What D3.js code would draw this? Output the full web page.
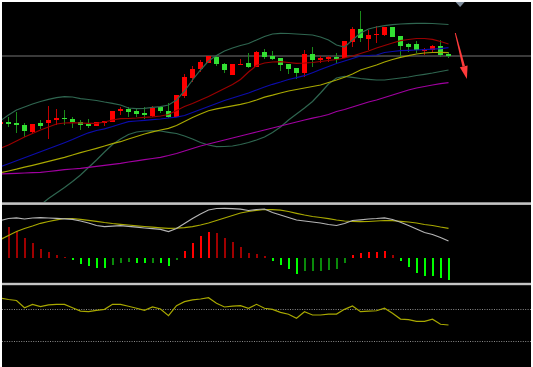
<!DOCTYPE html>
<html><head><meta charset="utf-8">
<script src="https://cdn.jsdelivr.net/npm/d3@7"></script>
<style>html,body{margin:0;padding:0;background:#fff;overflow:hidden}</style>
</head><body>
<svg id="c" width="533" height="367"></svg>
<script>
// ---- candle data (index 0..56) ----
const open  = [27.92,28.00,27.87,27.73,27.00,27.87,27.90,28.20,28.40,28.33,28.03,27.80,27.63,27.97,28.03,29.17,29.27,29.07,28.87,28.63,29.47,29.13,28.53,30.63,32.37,33.27,33.93,34.53,33.80,32.73,33.70,33.87,33.53,35.00,34.60,34.37,33.77,33.37,32.87,34.80,34.20,34.30,34.47,34.37,36.03,37.27,36.30,36.67,36.70,37.47,36.60,35.77,35.77,35.13,35.20,35.63,34.77];
const close = [27.96,27.80,27.73,27.07,27.83,27.60,28.23,28.40,28.27,28.00,27.73,27.60,28.00,28.07,29.13,29.27,29.00,28.80,28.67,29.40,29.13,28.53,30.70,32.47,33.30,33.97,34.57,33.80,33.20,33.77,33.83,33.53,35.00,34.53,34.30,33.70,33.30,32.87,34.80,34.20,34.37,34.50,34.37,36.10,37.27,36.37,36.70,36.80,37.47,36.53,35.63,35.53,35.20,35.27,35.63,34.70,34.67];
const high  = [28.00,28.47,29.00,27.87,27.83,28.20,29.60,29.27,29.20,28.53,28.20,28.33,28.03,28.13,29.13,29.53,29.47,29.37,29.47,29.60,29.60,29.93,30.70,32.80,33.60,34.20,34.60,34.60,33.93,33.80,34.33,34.93,35.07,35.27,35.10,34.40,33.80,33.40,35.20,35.53,34.60,34.60,34.87,36.10,37.47,39.10,37.20,37.63,37.47,37.53,36.63,35.87,36.07,35.37,35.73,36.20,34.97];
const low   = [27.88,27.53,26.93,26.53,26.80,27.27,26.27,27.70,27.70,27.40,27.20,27.37,27.60,27.60,28.00,28.70,28.53,28.47,28.33,28.47,28.87,28.37,28.50,30.37,32.03,33.03,33.90,33.63,32.93,32.67,33.67,33.37,33.53,34.33,34.20,33.13,32.80,32.33,32.47,33.53,33.87,34.03,33.87,34.37,35.47,36.03,35.20,35.93,36.63,36.47,34.37,35.00,34.93,34.67,34.87,34.47,34.37];
// ---- main panel indicator lines ----
const bollUpper = [28.13,28.70,29.20,29.50,29.80,30.05,30.27,30.43,30.53,30.50,30.33,30.25,30.15,30.00,29.87,29.70,29.40,29.33,29.37,29.47,29.53,29.70,30.20,31.10,32.20,33.20,34.10,34.65,35.10,35.40,35.65,35.85,36.20,36.55,36.80,36.87,36.85,36.80,36.75,36.70,36.50,36.20,35.70,35.50,36.20,36.90,37.30,37.50,37.63,37.73,37.80,37.83,37.87,37.87,37.85,37.80,37.75];
const bollLower = [16.20,16.90,17.60,18.30,19.00,19.70,20.35,20.90,21.45,22.05,22.70,23.45,24.20,25.00,25.75,26.30,26.75,27.00,27.10,27.12,27.10,26.97,26.85,26.60,26.30,25.95,25.70,25.53,25.55,25.60,25.75,25.95,26.20,26.50,26.95,27.50,28.20,28.80,29.40,30.05,30.90,31.80,32.40,32.57,32.47,32.35,32.27,32.20,32.20,32.30,32.40,32.50,32.65,32.77,32.90,33.05,33.20];
const maRed = [25.37,25.70,26.10,26.50,26.85,27.20,27.50,27.80,27.90,27.93,27.90,27.87,27.87,28.00,28.20,28.33,28.35,28.40,28.47,28.52,28.60,28.75,29.15,29.55,29.85,30.20,30.55,30.95,31.35,31.75,32.25,33.00,33.65,33.90,34.00,34.03,33.95,33.87,33.90,33.95,34.05,34.15,34.25,34.40,34.60,34.85,35.10,35.40,35.65,35.90,36.13,36.25,36.35,36.35,36.27,36.05,35.80];
const maBlue = [23.53,23.82,24.12,24.42,24.72,25.03,25.33,25.63,25.93,26.25,26.60,26.92,27.15,27.32,27.55,27.80,28.03,28.10,28.17,28.23,28.30,28.40,28.48,28.65,28.95,29.25,29.55,29.85,30.15,30.40,30.65,30.90,31.20,31.50,31.77,32.00,32.25,32.43,32.63,32.93,33.25,33.55,33.85,34.10,34.35,34.60,34.65,34.70,34.95,35.05,35.13,35.17,35.20,35.24,35.28,35.33,35.43];
const maYellow = [22.93,23.10,23.28,23.48,23.67,23.87,24.07,24.27,24.47,24.70,24.94,25.15,25.37,25.60,25.83,26.03,26.30,26.55,26.80,27.02,27.20,27.37,27.65,28.05,28.45,28.80,29.13,29.32,29.47,29.62,29.77,29.95,30.20,30.48,30.68,30.90,31.10,31.25,31.40,31.55,31.70,31.95,32.20,32.47,32.80,33.20,33.45,33.70,34.00,34.25,34.47,34.63,34.80,34.90,34.95,34.97,34.93];
const maMagenta = [22.80,22.83,22.86,22.90,22.93,22.97,23.05,23.14,23.23,23.30,23.37,23.47,23.57,23.67,23.77,23.87,24.00,24.12,24.24,24.35,24.47,24.65,24.85,25.10,25.35,25.60,25.80,26.00,26.20,26.40,26.60,26.80,27.00,27.20,27.40,27.60,27.80,28.00,28.20,28.38,28.55,28.75,29.05,29.25,29.50,29.75,30.00,30.20,30.45,30.70,30.95,31.20,31.40,31.55,31.70,31.83,31.93];
const priceLevel = 34.6;
// ---- MACD panel ----
const macdHist = [0.33,0.31,0.267,0.193,0.147,0.09,0.053,0.027,0.007,-0.027,-0.063,-0.087,-0.10,-0.107,-0.077,-0.057,-0.047,-0.053,-0.057,-0.05,-0.053,-0.08,-0.027,0.07,0.147,0.217,0.26,0.247,0.20,0.16,0.11,0.047,0.037,0.013,-0.033,-0.073,-0.113,-0.167,-0.137,-0.137,-0.13,-0.123,-0.11,-0.053,0.03,0.047,0.057,0.06,0.07,0.03,-0.033,-0.097,-0.15,-0.18,-0.183,-0.207,-0.22];
const macdDif = [0.372,0.392,0.399,0.387,0.397,0.40,0.397,0.394,0.389,0.384,0.367,0.347,0.322,0.31,0.315,0.32,0.314,0.305,0.297,0.29,0.284,0.262,0.292,0.342,0.392,0.437,0.477,0.492,0.494,0.491,0.485,0.472,0.482,0.487,0.452,0.427,0.402,0.377,0.367,0.357,0.347,0.332,0.322,0.342,0.372,0.379,0.387,0.392,0.399,0.382,0.354,0.322,0.287,0.252,0.232,0.202,0.167];
const macdDea = [0.182,0.222,0.262,0.292,0.317,0.344,0.362,0.379,0.392,0.392,0.384,0.374,0.364,0.352,0.342,0.334,0.327,0.319,0.312,0.305,0.299,0.294,0.295,0.301,0.311,0.327,0.347,0.372,0.397,0.422,0.447,0.462,0.474,0.482,0.481,0.475,0.462,0.444,0.427,0.412,0.402,0.391,0.377,0.367,0.362,0.36,0.362,0.367,0.372,0.37,0.364,0.357,0.347,0.332,0.322,0.307,0.294];
// ---- lower oscillator panel ----
const osc = [60.0,58.6,57.7,50.9,54.1,51.9,53.5,54.1,54.1,50.9,47.8,47.2,48.5,49.4,54.1,54.1,52.3,50.4,48.5,51.6,49.7,43.4,52.8,56.6,58.2,59.1,60.3,55.1,51.6,52.5,52.8,50.4,54.1,50.4,49.4,46.6,44.8,41.0,47.2,44.1,44.1,45.0,45.0,49.4,52.5,47.2,47.8,48.1,50.4,45.7,40.3,39.7,38.2,38.2,40.1,35.4,34.7];
const oscLevels = [50, 20];
// ---- annotations ----
const arrowFrom = [56.85, 36.9], arrowTo = [58.3, 32.3];
const markerIndex = 57.45;

const svg = d3.select('#c');
svg.append('rect').attr('x',2).attr('y',2).attr('width',529).attr('height',365).attr('fill','#000');

const defs = svg.append('defs');
defs.append('clipPath').attr('id','cpMain').append('rect').attr('x',2).attr('y',2).attr('width',529).attr('height',200);
defs.append('clipPath').attr('id','cpMacd').append('rect').attr('x',2).attr('y',205).attr('width',529).attr('height',78);
defs.append('clipPath').attr('id','cpOsc').append('rect').attr('x',2).attr('y',285).attr('width',529).attr('height',82);

const idx = d3.range(open.length);
const x = d3.scaleLinear().domain([0,56]).range([0.5,448.5]);
const y = d3.scaleLinear().domain([20,40]).range([202,2]);
const yM = d3.scaleLinear().domain([-0.253,0.527]).range([283,205]);
const yO = d3.scaleLinear().domain([20,50]).range([340.7,308.7]);

// ---- main panel ----
const gm = svg.append('g').attr('clip-path','url(#cpMain)');
gm.append('line').attr('x1',2).attr('x2',531).attr('y1',y(priceLevel)).attr('y2',y(priceLevel))
  .attr('stroke','#3a3a3a').attr('stroke-width',2);

const candles = idx.map(i=>({i,o:open[i],c:close[i],h:high[i],l:low[i],up:close[i]>=open[i]}));
gm.selectAll('rect.wick').data(candles).join('rect').attr('class','wick')
  .attr('shape-rendering','crispEdges')
  .attr('x',d=>x(d.i)-0.5).attr('width',1)
  .attr('y',d=>y(d.h)).attr('height',d=>Math.max(1,y(d.l)-y(d.h)))
  .attr('fill',d=>d.up?'#c00000':'#1a8a1a');
gm.selectAll('rect.body').data(candles).join('rect').attr('class','body')
  .attr('shape-rendering','crispEdges')
  .attr('x',d=>x(d.i)-2.5).attr('width',5)
  .attr('y',d=>y(Math.max(d.o,d.c))).attr('height',d=>Math.max(1.2,Math.abs(y(d.o)-y(d.c))))
  .attr('fill',d=>d.up?'#ff0000':'#33e033');

const line = (arr, ys) => d3.line().x((d,i)=>x(i)).y(d=>ys(d))(arr);
const mainLines = [
  [bollUpper,'#2f6650'],[bollLower,'#2f6650'],
  [maMagenta,'#a000a0'],[maYellow,'#a8a800'],[maBlue,'#0c0caa'],[maRed,'#9a0000']
];
mainLines.forEach(([arr,col])=>{
  gm.append('path').attr('d',line(arr,y)).attr('fill','none').attr('stroke',col).attr('stroke-width',1.2);
});

// arrow
const p0 = [x(arrowFrom[0]), y(arrowFrom[1])], p1 = [x(arrowTo[0]), y(arrowTo[1])];
const dx = p1[0]-p0[0], dy = p1[1]-p0[1], len = Math.hypot(dx,dy);
const ux = dx/len, uy = dy/len, nx = -uy, ny = ux;
const hb = [p1[0]-ux*13, p1[1]-uy*13];
gm.append('path').attr('d', `M${p0[0]-nx*0.5},${p0[1]-ny*0.5} L${p0[0]+nx*0.5},${p0[1]+ny*0.5} L${hb[0]+nx*1.3},${hb[1]+ny*1.3} L${hb[0]-nx*1.3},${hb[1]-ny*1.3}Z`)
  .attr('fill','#ff3b3b');
gm.append('path').attr('d', `M${p1[0]},${p1[1]} L${hb[0]+nx*4},${hb[1]+ny*4} L${hb[0]-nx*4},${hb[1]-ny*4}Z`)
  .attr('fill','#ff3b3b');

// marker triangle at top
const mx = x(markerIndex);
svg.append('path').attr('d',`M${mx-4.5},2 L${mx+4.5},2 L${mx},7Z`).attr('fill','#7f8d9c');

// ---- separators ----
svg.append('rect').attr('x',2).attr('y',202.3).attr('width',529).attr('height',2.6).attr('fill','#c4c4c4');
svg.append('rect').attr('x',2).attr('y',282.8).attr('width',529).attr('height',2.4).attr('fill','#c4c4c4');

// ---- MACD panel ----
const gd = svg.append('g').attr('clip-path','url(#cpMacd)');
gd.selectAll('rect.hist').data(idx).join('rect').attr('class','hist')
  .attr('shape-rendering','crispEdges')
  .attr('x',i=>x(i)-1).attr('width',2)
  .attr('y',i=>Math.min(yM(0),yM(macdHist[i])))
  .attr('height',i=>Math.max(1,Math.abs(yM(macdHist[i])-yM(0))))
  .attr('fill',i=>{
    const v = macdHist[i], prev = i>0 ? macdHist[i-1] : v;
    const grow = Math.abs(v) > Math.abs(prev) && Math.sign(v)===Math.sign(prev) || Math.sign(v)!==Math.sign(prev);
    if (v>=0) return grow ? '#ff0000' : '#a00000';
    return grow ? '#00ff00' : '#0a8a0a';
  });
gd.append('path').attr('d',line(macdDea,yM)).attr('fill','none').attr('stroke','#a8a800').attr('stroke-width',1.2);
gd.append('path').attr('d',line(macdDif,yM)).attr('fill','none').attr('stroke','#b4b4b4').attr('stroke-width',1.2);

// ---- oscillator panel ----
const go = svg.append('g').attr('clip-path','url(#cpOsc)');
oscLevels.forEach(l=>{
  go.append('line').attr('x1',2).attr('x2',531).attr('y1',Math.round(yO(l))+0.5).attr('y2',Math.round(yO(l))+0.5)
    .attr('stroke','#8a8a8a').attr('stroke-width',1).attr('stroke-dasharray','1,1.4');
});
go.append('path').attr('d',line(osc,yO)).attr('fill','none').attr('stroke','#a8a800').attr('stroke-width',1.2);
</script>
</body></html>
